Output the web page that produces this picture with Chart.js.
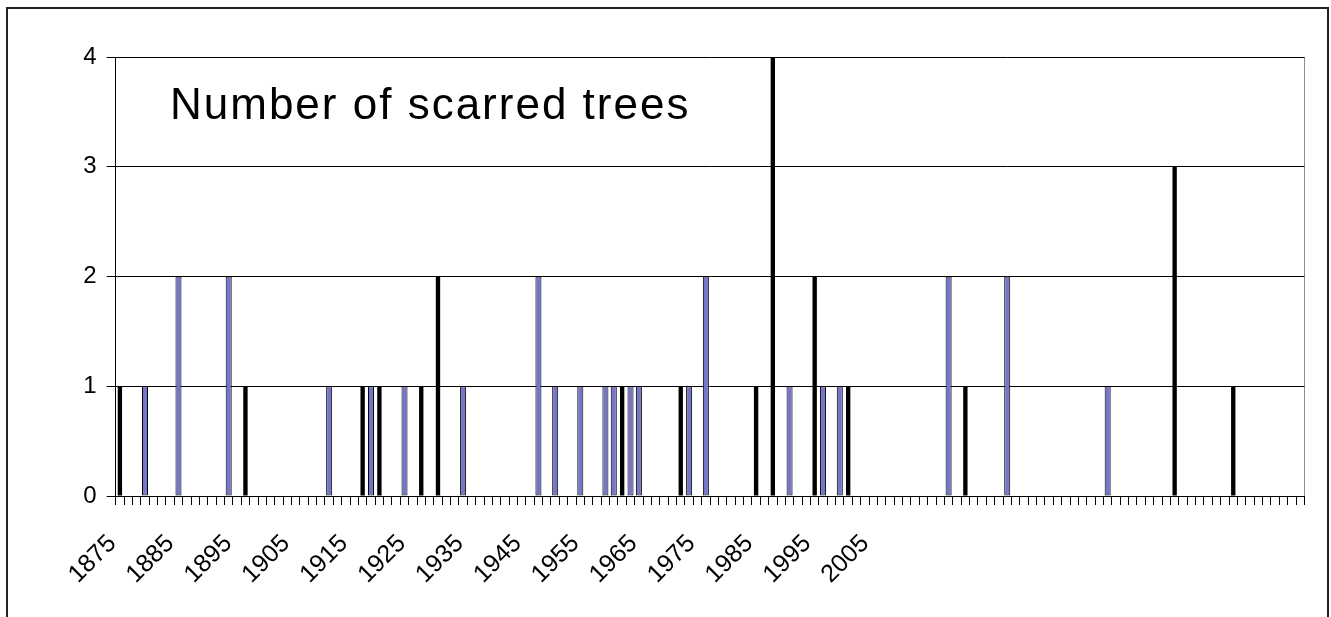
<!DOCTYPE html>
<html lang="en">
<head>
    <meta charset="UTF-8">
    <title>Number of scarred trees</title>
    <script src="https://cdn.jsdelivr.net/npm/chart.js"></script>
    <style>
        html, body {
            margin: 0;
            padding: 0;
            background: #fff;
        }

        #wrap {
            width: 1331px;
            height: 617px;
            position: relative;
        }
    </style>
</head>
<body>

    <div id="wrap"><canvas id="chart"></canvas></div>

    <script>
        // category slots along the x axis (one tick mark each)
        const categoryCount = 142;

        // axis labels as printed on the original chart
        const tickLabels = ['1875', '1885', '1895', '1905', '1915', '1925', '1935',
            '1945', '1955', '1965', '1975', '1985', '1995', '2005'];

        // blue bars (slot index / count)
        const blueIndex = [3, 7, 13, 25, 30, 34, 41, 50, 52, 55, 58, 59, 61, 62, 68, 70, 80, 84, 86, 99, 106, 118];
        const blueValues = [1, 2, 2, 1, 1, 1, 1, 2, 1, 1, 1, 1, 1, 1, 1, 2, 1, 1, 1, 2, 2, 1];

        // black bars (slot index / count)
        const blackIndex = [0, 15, 29, 31, 36, 38, 60, 67, 76, 78, 83, 87, 101, 126, 133];
        const blackValues = [1, 1, 1, 1, 1, 2, 1, 1, 1, 4, 2, 1, 1, 3, 1];

        const yTicks = [0, 1, 2, 3, 4];
        const titleText = 'Number of scarred trees';

        // where the labels sit, in slot units (they do not line up with the slots)
        const labelStart = -0.9;
        const labelStep = 6.917;

        const font = "'Liberation Sans', Arial, sans-serif";

        const categories = Array.from({ length: categoryCount }, (_, i) => String(i));

        function spread(idx, vals) {
            const out = new Array(categoryCount).fill(null);
            idx.forEach((k, j) => { out[k] = vals[j]; });
            return out;
        }

        // frame, plot-area edge and the text box
        const decor = {
            id: 'decor',
            beforeDraw(chart) {
                const { ctx, chartArea } = chart;
                ctx.save();
                ctx.strokeStyle = '#8c8c8c';
                ctx.lineWidth = 1;
                ctx.beginPath();
                ctx.moveTo(Math.round(chartArea.right) + 0.5, chartArea.top);
                ctx.lineTo(Math.round(chartArea.right) + 0.5, chartArea.bottom);
                ctx.stroke();
                ctx.restore();
            },
            afterDraw(chart) {
                const { ctx } = chart;
                ctx.save();
                ctx.strokeStyle = '#222';
                ctx.lineWidth = 2;
                ctx.beginPath();
                ctx.moveTo(7, 640);
                ctx.lineTo(7, 8);
                ctx.lineTo(1328, 8);
                ctx.lineTo(1328, 640);
                ctx.stroke();

                ctx.fillStyle = '#000';
                ctx.font = '44px ' + font;
                ctx.letterSpacing = '2px';
                ctx.textBaseline = 'alphabetic';
                ctx.fillText(titleText, 170, 119);
                ctx.restore();
            }
        };

        new Chart(document.getElementById('chart'), {
            type: 'bar',
            data: {
                labels: categories,
                datasets: [{
                    label: 'blue',
                    data: spread(blueIndex, blueValues),
                    backgroundColor: '#7676c6',
                    borderColor: '#000',
                    borderWidth: 1,
                    borderSkipped: false,
                    barPercentage: 0.72,
                    categoryPercentage: 1
                }, {
                    label: 'black',
                    data: spread(blackIndex, blackValues),
                    backgroundColor: '#000',
                    borderColor: '#000',
                    borderWidth: 0,
                    barPercentage: 0.52,
                    categoryPercentage: 1
                }]
            },
            options: {
                responsive: true,
                maintainAspectRatio: false,
                animation: false,
                layout: {
                    padding: { left: 0, top: 57, right: 26.6, bottom: 0 }
                },
                plugins: {
                    legend: { display: false },
                    tooltip: { enabled: false }
                },
                scales: {
                    x: {
                        stacked: true,
                        weight: 0,
                        afterFit(scale) { scale.height = 9; },
                        grid: {
                            display: true,
                            offset: true,
                            drawOnChartArea: false,
                            drawTicks: true,
                            tickLength: 9,
                            color: '#000',
                            lineWidth: 1
                        },
                        border: { display: true, color: '#000', width: 1 },
                        ticks: { display: false }
                    },
                    xl: {
                        type: 'linear',
                        position: 'bottom',
                        weight: 1,
                        offset: false,
                        min: -0.5,
                        max: categoryCount - 0.5,
                        afterBuildTicks(scale) {
                            scale.ticks = tickLabels.map((t, k) => ({ value: labelStart + k * labelStep }));
                        },
                        afterFit(scale) { scale.height = 112; },
                        grid: { display: false, offset: false, drawTicks: false, tickLength: 0 },
                        border: { display: false },
                        ticks: {
                            autoSkip: false,
                            minRotation: 45,
                            maxRotation: 45,
                            padding: 24,
                            color: '#000',
                            font: { family: font, size: 25 },
                            callback(value, index) {
                                return tickLabels[index];
                            }
                        }
                    },
                    y: {
                        stacked: true,
                        min: yTicks[0],
                        max: yTicks[yTicks.length - 1],
                        afterFit(scale) { scale.width = 115.7; },
                        grid: {
                            color: '#000',
                            lineWidth: 1,
                            drawTicks: true,
                            tickLength: 9
                        },
                        border: { display: true, color: '#000', width: 1 },
                        ticks: {
                            stepSize: 1,
                            padding: 10,
                            color: '#000',
                            font: { family: font, size: 24 }
                        }
                    }
                }
            },
            plugins: [decor]
        });
    </script>

</body>
</html>
